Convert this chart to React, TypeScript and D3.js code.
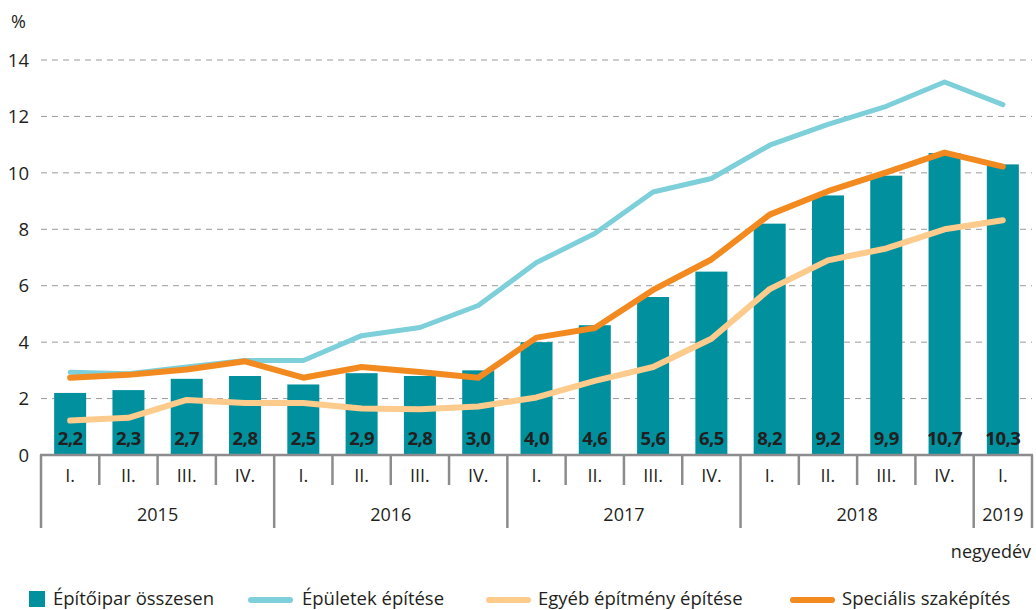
import React from "react";
import * as d3 from "d3";

const quarters = ["I.", "II.", "III.", "IV.", "I.", "II.", "III.", "IV.", "I.", "II.", "III.", "IV.", "I.", "II.", "III.", "IV.", "I."];
const years = [
  { label: "2015", count: 4 },
  { label: "2016", count: 4 },
  { label: "2017", count: 4 },
  { label: "2018", count: 4 },
  { label: "2019", count: 1 },
];
const total = [2.2, 2.3, 2.7, 2.8, 2.5, 2.9, 2.8, 3.0, 4.0, 4.6, 5.6, 6.5, 8.2, 9.2, 9.9, 10.7, 10.3];
const buildings = [2.93, 2.88, 3.12, 3.35, 3.35, 4.23, 4.52, 5.3, 6.82, 7.85, 9.32, 9.8, 10.98, 11.72, 12.36, 13.22, 12.42];
const other = [1.22, 1.32, 1.95, 1.84, 1.84, 1.65, 1.62, 1.72, 2.04, 2.63, 3.12, 4.12, 5.88, 6.9, 7.32, 8.0, 8.32];
const special = [2.74, 2.84, 3.03, 3.32, 2.74, 3.12, 2.94, 2.74, 4.16, 4.5, 5.85, 6.93, 8.52, 9.35, 10.02, 10.72, 10.22];
const yTicks = [0, 2, 4, 6, 8, 10, 12, 14];

const C_BAR = "#00909e";
const C_BLUE = "#7dcfd9";
const C_LORANGE = "#fdcb8b";
const C_ORANGE = "#f38a20";
const C_AXIS = "#8c8c8e";
const C_TEXT = "#231f20";
const FONT = "'Open Sans', 'Noto Sans', sans-serif";

export default function App() {
  const W = 1036, H = 610;
  const x0 = 41, x1 = 1032;
  const idx = quarters.map((_, i) => i);
  const x = d3.scaleBand<number>().domain(idx).range([x0, x1]).paddingInner(0).paddingOuter(0);
  const y = d3.scaleLinear().domain([0, 14]).range([455, 60]);
  const bw = 32;
  const cx = (i: number) => (x(i) as number) + x.bandwidth() / 2;
  const line = d3.line<number>().x((_, i) => cx(i)).y((v) => y(v)).curve(d3.curveLinear);

  const yearBounds: { label: string; start: number; end: number }[] = [];
  let acc = 0;
  years.forEach((yr) => {
    yearBounds.push({ label: yr.label, start: acc, end: acc + yr.count });
    acc += yr.count;
  });
  const edge = (i: number) => (i >= quarters.length ? x1 : (x(i) as number));

  const legend = [
    { type: "rect", color: C_BAR, label: "Építőipar összesen", x: 29, tx: 53 },
    { type: "line", color: C_BLUE, label: "Épületek építése", x: 248, tx: 302 },
    { type: "line", color: C_LORANGE, label: "Egyéb építmény építése", x: 486, tx: 538 },
    { type: "line", color: C_ORANGE, label: "Speciális szaképítés", x: 790, tx: 842 },
  ];

  return (
    <div style={{ position: "absolute", left: 0, top: 0 }}>
      <svg width={W} height={H} style={{ display: "block", fontFamily: FONT }}>
        <rect width={W} height={H} fill="#fff" />
        {yTicks.filter((t) => t > 0).map((t) => (
          <line key={t} x1={x0} x2={x1} y1={y(t)} y2={y(t)} stroke="#9a9a9a" strokeWidth={1} strokeDasharray="6 5" />
        ))}
        {yTicks.map((t) => (
          <text key={t} x={29} y={y(t)} dy="0.36em" textAnchor="end" fontSize={18.5} fill={C_TEXT}>{t}</text>
        ))}
        <text x={11} y={28} fontSize={18} fill={C_TEXT}>%</text>

        {total.map((v, i) => (
          <rect key={i} x={cx(i) - bw / 2} y={y(v)} width={bw} height={y(0) - y(v)} fill={C_BAR} />
        ))}
        {total.map((v, i) => (
          <text key={i} x={cx(i)} y={445} textAnchor="middle" fontSize={18.5} fontWeight="bold" fill={C_TEXT} letterSpacing={-0.5}>
            {v.toFixed(1).replace(".", ",")}
          </text>
        ))}

        <path d={line(buildings) || ""} fill="none" stroke={C_BLUE} strokeWidth={5} strokeLinejoin="round" strokeLinecap="round" />
        <path d={line(other) || ""} fill="none" stroke={C_LORANGE} strokeWidth={6} strokeLinejoin="round" strokeLinecap="round" />
        <path d={line(special) || ""} fill="none" stroke={C_ORANGE} strokeWidth={6} strokeLinejoin="round" strokeLinecap="round" />

        {/* category axis */}
        <line x1={x0 - 1} x2={x1 + 1} y1={y(0)} y2={y(0)} stroke={C_AXIS} strokeWidth={2.5} />
        {idx.concat([quarters.length]).map((i) => {
          const isYear = yearBounds.some((b) => b.start === i) || i === quarters.length;
          return (
            <line key={i} x1={edge(i)} x2={edge(i)} y1={y(0)} y2={isYear ? 528 : 485} stroke={C_AXIS} strokeWidth={2.5} />
          );
        })}
        {quarters.map((q, i) => (
          <text key={i} x={cx(i)} y={482} textAnchor="middle" fontSize={18} fill={C_TEXT}>{q}</text>
        ))}
        {yearBounds.map((b) => (
          <text key={b.label} x={(edge(b.start) + edge(b.end)) / 2} y={521} textAnchor="middle" fontSize={18} fill={C_TEXT}>{b.label}</text>
        ))}
        <text x={1031} y={558} textAnchor="end" fontSize={18} fill={C_TEXT}>negyedév</text>

        {legend.map((l) => (
          <g key={l.label}>
            {l.type === "rect" ? (
              <rect x={l.x} y={591} width={16} height={16} fill={l.color} />
            ) : (
              <line x1={l.x + 3} x2={l.x + 42} y1={600} y2={600} stroke={l.color} strokeWidth={6} strokeLinecap="round" />
            )}
            <text x={l.tx} y={605} fontSize={18.5} fill={C_TEXT}>{l.label}</text>
          </g>
        ))}
      </svg>
    </div>
  );
}
